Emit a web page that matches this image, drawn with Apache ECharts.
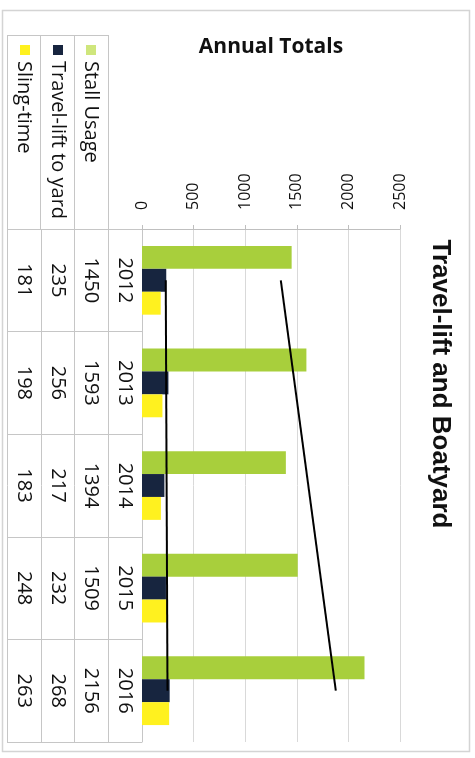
<!DOCTYPE html>
<html><head><meta charset="utf-8">
<script src="https://cdn.jsdelivr.net/npm/echarts@6/dist/echarts.min.js"></script>
<style>html,body{margin:0;padding:0;background:#fff}#c{width:475px;height:758px}</style>
</head><body><div id="c"></div>
<script>
// ---- data ----
const years = ['2012', '2013', '2014', '2015', '2016'];
const stallUsage = [1450, 1593, 1394, 1509, 2156];
const travelLift = [235, 256, 217, 232, 268];
const slingTime = [181, 198, 183, 248, 263];
const seriesNames = ['Stall Usage', 'Travel-lift to yard', 'Sling-time'];
const valueTicks = [0, 500, 1000, 1500, 2000, 2500];
const stallTrend = [1345, 1878];   // trendline ends (2012, 2016)
const liftTrend = [230, 247];
const chartTitle = 'Travel-lift and Boatyard';
const axisTitle = 'Annual Totals';
const tableColumns = ['Sling-time', 'Travel-lift to yard', 'Stall Usage', 'Year'];

// ---- style ----
const GREEN = '#a8cf3c', NAVY = '#17253f', YELLOW = '#fff11f';
const GRID_LINE = '#d9d9d9', TABLE_LINE = '#c6c6c6';
const FONT = 'Open Sans';
const tableText = { fontFamily: FONT, fontSize: 20, color: '#111' };

const chart = echarts.init(document.getElementById('c'), null, { renderer: 'canvas' });

function valueColumnAxis(values, margin) {
  return {
    gridIndex: 0, type: 'category', inverse: true, data: years, position: 'left',
    axisLine: { show: false }, axisTick: { show: false }, splitLine: { show: false },
    axisLabel: Object.assign({ rotate: -90, margin: margin, interval: 0,
      formatter: (v, i) => String(values[i]) }, tableText)
  };
}
function legendKey(name, left, color) {
  const item = { name: name };
  if (color) item.itemStyle = { color: color };
  return { data: [item], left: left, top: 45, padding: 0, itemWidth: 10, itemHeight: 10,
    icon: 'rect', formatter: () => '', selectedMode: false, textStyle: { fontSize: 1 } };
}

const option = {
  animation: false,
  textStyle: { fontFamily: FONT },
  grid: [
    { left: 142, top: 229, width: 258, height: 513 },
    { left: 7, top: 229, width: 135, height: 513 },
    { left: 7, top: 35, width: 101, height: 194 }
  ],
  legend: [
    legendKey(seriesNames[2], 20),
    legendKey(seriesNames[1], 53),
    legendKey(seriesNames[0], 86, '#cfe67c')
  ],
  xAxis: [
    { gridIndex: 0, type: 'value', position: 'top', min: valueTicks[0], max: valueTicks[valueTicks.length - 1],
      interval: valueTicks[1] - valueTicks[0],
      name: axisTitle, nameLocation: 'middle', nameGap: 171,
      nameTextStyle: { fontFamily: FONT, fontWeight: 'bold', fontSize: 21, color: '#111' },
      axisLine: { show: true, lineStyle: { color: '#bfbfbf' } },
      axisTick: { show: true, length: 4, lineStyle: { color: '#bfbfbf' } },
      axisLabel: { rotate: -90, margin: 19, fontSize: 16, color: '#111', fontFamily: FONT,
        formatter: v => String(v) },
      splitLine: { show: true, lineStyle: { color: GRID_LINE } } },
    { gridIndex: 1, type: 'category', data: tableColumns,
      axisLine: { show: false }, axisTick: { show: false }, axisLabel: { show: false, interval: 0 },
      splitLine: { show: true, interval: 0, lineStyle: { color: TABLE_LINE } } },
    { gridIndex: 2, type: 'category', position: 'top', data: seriesNames.slice().reverse(),
      axisLine: { show: false }, axisTick: { show: false },
      axisLabel: Object.assign({ inside: true, rotate: -90, margin: 26, interval: 0 }, tableText),
      splitLine: { show: true, interval: 0, lineStyle: { color: TABLE_LINE } } }
  ],
  yAxis: [
    { gridIndex: 0, type: 'category', inverse: true, data: years, position: 'left',
      axisLine: { show: true, lineStyle: { color: TABLE_LINE } }, axisTick: { show: false },
      axisLabel: Object.assign({ rotate: -90, margin: 7, interval: 0 }, tableText),
      splitLine: { show: false } },
    valueColumnAxis(stallUsage, 41),
    valueColumnAxis(travelLift, 74),
    valueColumnAxis(slingTime, 108),
    { gridIndex: 1, type: 'category', inverse: true, data: years,
      axisLine: { show: false }, axisTick: { show: false }, axisLabel: { show: false, interval: 0 },
      splitLine: { show: true, interval: 0, lineStyle: { color: TABLE_LINE } } },
    { gridIndex: 2, type: 'value', min: 0, max: 1, interval: 1,
      axisLine: { show: false }, axisTick: { show: false }, axisLabel: { show: false },
      splitLine: { show: true, lineStyle: { color: TABLE_LINE } } }
  ],
  series: [
    { name: seriesNames[0], type: 'bar', xAxisIndex: 0, yAxisIndex: 0, data: stallUsage,
      itemStyle: { color: GREEN }, barGap: '0%', barCategoryGap: '33%' },
    { name: seriesNames[1], type: 'bar', xAxisIndex: 0, yAxisIndex: 0, data: travelLift,
      itemStyle: { color: NAVY }, barGap: '0%', barCategoryGap: '33%' },
    { name: seriesNames[2], type: 'bar', xAxisIndex: 0, yAxisIndex: 0, data: slingTime,
      itemStyle: { color: YELLOW }, barGap: '0%', barCategoryGap: '33%' },
    { name: 'Stall Usage trend', type: 'line', xAxisIndex: 0, yAxisIndex: 0, z: 5,
      data: [[stallTrend[0], years[0]], [stallTrend[1], years[years.length - 1]]],
      symbol: 'none', lineStyle: { color: '#000', width: 2 } },
    { name: 'Travel-lift trend', type: 'line', xAxisIndex: 0, yAxisIndex: 0, z: 5,
      data: [[liftTrend[0], years[0]], [liftTrend[1], years[years.length - 1]]],
      symbol: 'none', lineStyle: { color: '#000', width: 2 } }
  ],
  graphic: [
    { type: 'rect', silent: true, z: -10, shape: { x: 2.5, y: 10.5, width: 467, height: 741 },
      style: { fill: 'none', stroke: '#d4d4d4', lineWidth: 1.5 } },
    { type: 'text', silent: true, x: 440, y: 384, rotation: -Math.PI / 2,
      style: { text: chartTitle, fontFamily: 'Liberation Sans', fontWeight: 'bold', fontSize: 26,
        fill: '#111', align: 'center', verticalAlign: 'middle' } }
  ]
};
chart.setOption(option);
</script>
</body></html>
